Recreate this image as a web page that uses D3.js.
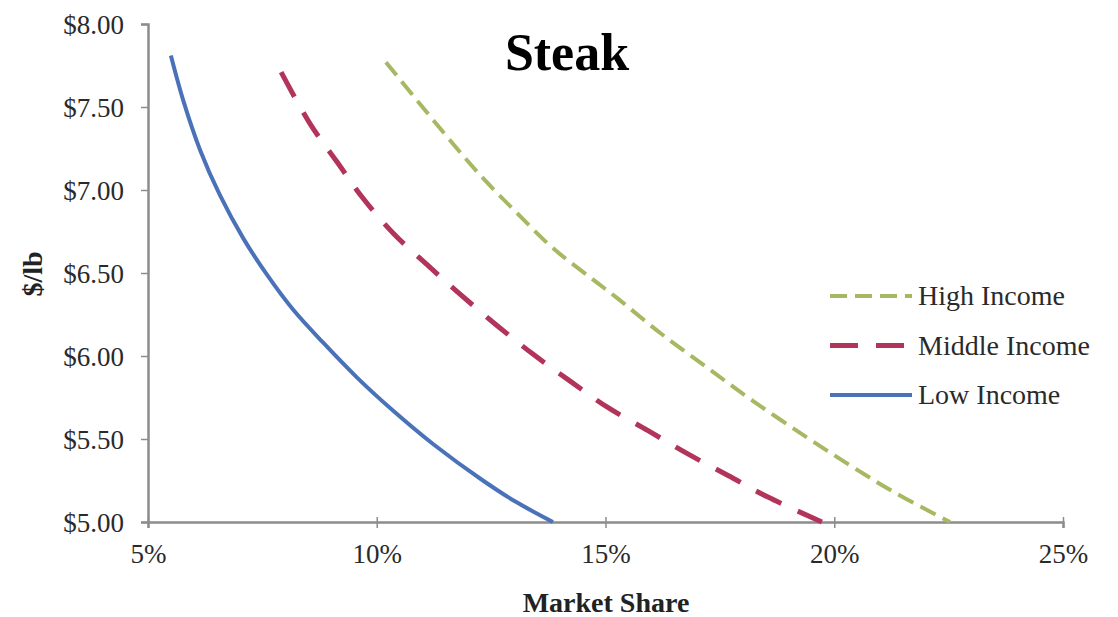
<!DOCTYPE html>
<html>
<head>
<meta charset="utf-8">
<script src="https://cdn.jsdelivr.net/npm/d3@7"></script>
<style>
  body { margin: 0; background: #fff; }
  text { font-family: "Liberation Serif", "Times New Roman", serif; }
</style>
</head>
<body>
<svg id="chart"></svg>
<script>
// market share (%) and price ($/lb)
const lowShare  = [5.50, 5.77, 6.14, 6.57, 7.08, 7.60, 8.17, 8.83, 9.57, 10.36, 11.23, 12.32, 13.05, 13.85];
const lowPrice  = [7.81, 7.54, 7.24, 6.97, 6.71, 6.49, 6.28, 6.08, 5.87, 5.67, 5.47, 5.25, 5.12, 5.00];
const midShare  = [7.91, 8.54, 9.13, 9.70, 10.36, 11.10, 11.75, 12.60, 13.42, 14.22, 15.05, 15.93, 16.80, 17.68, 18.55, 19.73];
const midPrice  = [7.71, 7.40, 7.17, 6.95, 6.74, 6.55, 6.39, 6.19, 6.01, 5.85, 5.69, 5.55, 5.41, 5.28, 5.15, 5.00];
const highShare = [10.20, 10.88, 11.54, 12.26, 13.07, 13.85, 14.73, 15.25, 16.19, 17.22, 18.22, 19.40, 20.41, 21.37, 22.53];
const highPrice = [7.77, 7.54, 7.32, 7.09, 6.86, 6.65, 6.46, 6.35, 6.14, 5.93, 5.73, 5.51, 5.33, 5.17, 5.00];

const xTicks = [5, 10, 15, 20, 25];
const yTicks = [5.00, 5.50, 6.00, 6.50, 7.00, 7.50, 8.00];

const series = [
  { name: "High Income",   share: highShare, price: highPrice, color: "#a6b862", width: 4, dash: "17,8" },
  { name: "Middle Income", share: midShare,  price: midPrice,  color: "#b2345a", width: 5, dash: "28,18" },
  { name: "Low Income",    share: lowShare,  price: lowPrice,  color: "#4a72b8", width: 4, dash: null }
];

const serif = "'Liberation Serif', 'Times New Roman', serif";
const width = 1118, height = 617;
const svg = d3.select("#chart")
  .attr("width", width)
  .attr("height", height);

const x = d3.scaleLinear().domain([5, 25]).range([148, 1063]);
const y = d3.scaleLinear().domain([5, 8]).range([522, 24]);

// axes
const xAxis = d3.axisBottom(x)
  .tickValues(xTicks)
  .tickFormat(d => d + "%")
  .tickSize(6)
  .tickPadding(16);

const yAxis = d3.axisLeft(y)
  .tickValues(yTicks)
  .tickFormat(d => "$" + d.toFixed(2))
  .tickSize(7)
  .tickPadding(17);

const gx = svg.append("g")
  .attr("transform", "translate(0, 522)")
  .call(xAxis);

gx.selectAll(".tick line").attr("y1", -5);

const gy = svg.append("g")
  .attr("transform", "translate(148, 0)")
  .call(yAxis);

[gx, gy].forEach(g => {
  g.attr("font-family", null);
  g.select(".domain").attr("stroke", "#8c8c8c").attr("stroke-width", 2.5);
  g.selectAll(".tick line").attr("stroke", "#8c8c8c").attr("stroke-width", 1.5);
  g.selectAll(".tick text")
    .style("font-family", serif)
    .attr("font-size", 27)
    .attr("fill", "#2a2a2a");
});
gy.selectAll(".tick text").attr("dy", "0.35em");

// curves
const line = d3.line()
  .x(d => x(d[0]))
  .y(d => y(d[1]))
  .curve(d3.curveCatmullRom.alpha(0.5));

series.forEach(s => {
  const pts = s.share.map((v, i) => [v, s.price[i]]);
  svg.append("path")
    .datum(pts)
    .attr("d", line)
    .attr("fill", "none")
    .attr("stroke", s.color)
    .attr("stroke-width", s.width)
    .attr("stroke-dasharray", s.dash)
    .attr("stroke-linecap", "butt");
});

// title + axis labels
svg.append("text")
  .attr("x", 567)
  .attr("y", 70)
  .attr("text-anchor", "middle")
  .attr("font-size", 52)
  .attr("font-weight", "bold")
  .text("Steak");

svg.append("text")
  .attr("x", 606)
  .attr("y", 612)
  .attr("text-anchor", "middle")
  .attr("font-size", 28)
  .attr("font-weight", "bold")
  .attr("fill", "#222")
  .text("Market Share");

svg.append("text")
  .attr("transform", "translate(42, 274) rotate(-90)")
  .attr("text-anchor", "middle")
  .attr("font-size", 28)
  .attr("font-weight", "bold")
  .attr("fill", "#222")
  .text("$/lb");

// legend
const legend = svg.append("g").attr("transform", "translate(830, 296)");
series.forEach((s, i) => {
  const row = legend.append("g").attr("transform", `translate(0, ${i * 49.5})`);
  row.append("line")
    .attr("x1", 0).attr("x2", 82)
    .attr("y1", 0).attr("y2", 0)
    .attr("stroke", s.color)
    .attr("stroke-width", s.width)
    .attr("stroke-dasharray", s.dash);
  row.append("text")
    .attr("x", 88)
    .attr("y", 0)
    .attr("dy", "0.33em")
    .attr("font-size", 28)
    .attr("fill", "#2a2a2a")
    .text(s.name);
});
</script>
</body>
</html>
